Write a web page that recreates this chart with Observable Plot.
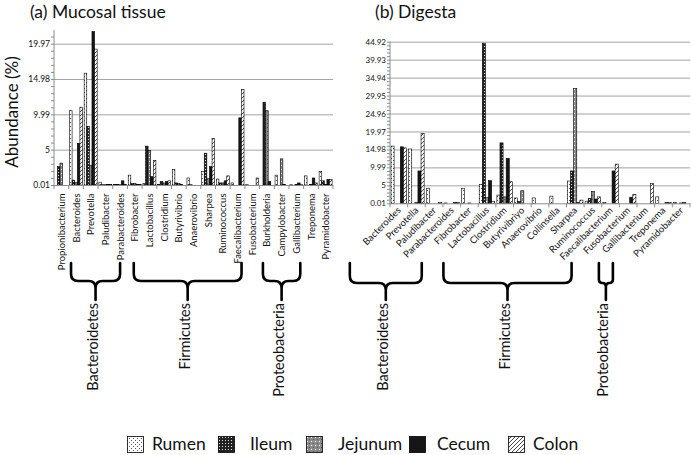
<!DOCTYPE html>
<html><head><meta charset="utf-8">
<script src="https://cdn.jsdelivr.net/npm/d3@7"></script>
<script src="https://cdn.jsdelivr.net/npm/@observablehq/plot@0.6"></script>
<style>
body{margin:0;background:#fff;font-family:Lato,"Open Sans",sans-serif;}
#wrap{position:relative;width:691px;height:455px;overflow:hidden;background:#fff;}
.title{position:absolute;font-size:17.5px;line-height:20px;color:#111;top:2px;white-space:nowrap;z-index:2;}
.panel{position:absolute;top:0;}
.legsw{position:absolute;top:436px;width:17px;height:17px;}
.legtx{position:absolute;top:433px;font-size:17.5px;line-height:22px;color:#111;white-space:nowrap;}
</style></head><body>
<svg width="0" height="0" style="position:absolute">
<defs>
 <pattern id="pRumen" width="4" height="4" patternUnits="userSpaceOnUse">
   <rect width="4" height="4" fill="#fff"/>
   <rect x="0" y="0" width="1" height="1" fill="#555"/>
   <rect x="2" y="2" width="1" height="1" fill="#555"/>
 </pattern>
 <pattern id="pIleum" width="3" height="3" patternUnits="userSpaceOnUse">
   <rect width="3" height="3" fill="#222"/>
   <rect x="1" y="1" width="1" height="1" fill="#ddd"/>
 </pattern>
 <pattern id="pJejunum" width="4" height="4" patternUnits="userSpaceOnUse">
   <rect width="4" height="4" fill="#8a8a8a"/>
   <rect x="1" y="1" width="1" height="1" fill="#fff"/>
   <rect x="3" y="3" width="1" height="1" fill="#555"/>
 </pattern>
 <pattern id="pCecum" width="4" height="4" patternUnits="userSpaceOnUse">
   <rect width="4" height="4" fill="#161616"/>
 </pattern>
 <pattern id="pColon" width="4" height="4" patternUnits="userSpaceOnUse">
   <rect width="4" height="4" fill="#fff"/>
   <path d="M-1,1 l2,-2 M0,4 l4,-4 M3,5 l2,-2" stroke="#333" stroke-width="0.9"/>
 </pattern>
</defs></svg>
<div id="wrap">
  <div class="title" style="left:30px">(a) Mucosal tissue</div>
  <div class="title" style="left:375px">(b) Digesta</div>
  <div id="pa" class="panel" style="left:0"></div>
  <div id="pb" class="panel" style="left:345px"></div>
  <div id="legend"></div>
</div>
<script>
// ---------------- data ----------------
const seriesNames = ["Rumen", "Ileum", "Jejunum", "Cecum", "Colon"];
const patternIds = ["pRumen", "pIleum", "pJejunum", "pCecum", "pColon"];

const mucosaGenera = ["Propionibacterium","Bacteroides","Prevotella","Paludibacter","Parabacteroides",
  "Fibrobacter","Lactobacillus","Clostridium","Butyrivibrio","Anaerovibrio","Sharpea","Ruminococcus",
  "Faecalibacterium","Fusobacterium","Burkholderia","Campylobacter","Gallibacterium","Treponema","Pyramidobacter"];
const mucosaRumen   = [0,   10.5, 15.8, 0.4,  0.1,  1.4, 0.2, 0.1, 2.2, 1.0,  1.9, 0.85, 0.3, 0.05, 0,    1.4, 0.05, 1.3, 1.9];
const mucosaIleum   = [2.6, 0.7,  8.3,  0.05, 0.1,  0.2, 5.5, 0.5, 0.3, 0.05, 4.5, 0.3,  0,   0,    11.7, 0,   0,    0,   0.6];
const mucosaJejunum = [3.1, 0.4,  2.8,  0.05, 0.05, 0.2, 4.9, 0.3, 0.2, 0,    0.9, 0.3,  0,   0,    10.5, 3.7, 0.1,  0.1, 0.1];
const mucosaCecum   = [0,   5.9,  21.7, 0.1,  0.6,  0.1, 1.2, 0.5, 0.1, 0,    2.6, 0.6,  9.5, 0,    0.5,  0.1, 0.3,  1.0, 0.8];
const mucosaColon   = [0,   11.0, 19.2, 0.1,  0.1,  0.1, 3.5, 0.6, 0,   0,    6.6, 1.3,  13.5, 1.0, 0,    0,   0.05, 0.3, 0.8];
const mucosaYTicks = [0.01, 5, 9.99, 14.98, 19.97];
const mucosaYMax = 21.9;

const digestaGenera = ["Bacteroides","Prevotella","Paludibacter","Parabacteroides","Fibrobacter",
  "Lactobacillus","Clostridium","Butyrivibriyo","Anaerovibrio","Collinsella","Sharpea","Ruminococcus",
  "Faecalibacterium","Fusobacterium","Gallibacterium","Treponema","Pyramidobacter"];
const digestaRumen   = [15.9, 15.1, 4.2, 0.1, 4.1, 5.3,  2.3,  1.5, 1.5, 2.0, 6.2,  0.6, 0.2,  0,   0,   1.8, 0.3];
const digestaIleum   = [0,    0,    0,   0,   0,   44.5, 16.8, 0.5, 0,   0,   9.0,  1.4, 0,    0,   0,   0,   0];
const digestaJejunum = [0,    0.3,  0,   0,   0.1, 1.6,  1.8,  3.5, 0,   0,   31.9, 3.3, 0,    0,   0,   0,   0.1];
const digestaCecum   = [15.7, 9.0,  0,   0.3, 0,   6.3,  12.5, 0,   0,   0,   0.2,  1.2, 9.0,  1.7, 0,   0.2, 0.2];
const digestaColon   = [15.4, 19.4, 0.2, 0.2, 0,   0.5,  6.0,  0,   0,   0,   0.9,  1.8, 10.9, 2.5, 5.5, 0.2, 0];
const digestaYTicks = [0.01, 5, 9.99, 14.98, 19.97, 24.96, 29.95, 34.94, 39.93, 44.92];
const digestaYMax = 44.92;

const phylumNames = ["Bacteroidetes", "Firmicutes", "Proteobacteria"];
const mucosaPhylumFirst = ["Bacteroides", "Fibrobacter", "Burkholderia"];
const mucosaPhylumLast  = ["Parabacteroides", "Faecalibacterium", "Gallibacterium"];
const digestaPhylumFirst = ["Bacteroides", "Fibrobacter", "Gallibacterium"];
const digestaPhylumLast  = ["Parabacteroides", "Faecalibacterium", "Gallibacterium"];

// ---------------- layout (pixels) ----------------
const layoutA = {width: 345, height: 420, mL: 54, mR: 12, mT: 30, mB: 235, rotate: -90, xFs: 9.5, yFs: 8.5,
  barOff: 0.8, barW: 2.6, braceOff: [[-5, 0], [-1, 4], [-4, 4]], braceTop: 263, braceMid: 281, braceTip: 300};
const layoutB = {width: 346, height: 420, mL: 45, mR: 1, mT: 41.7, mB: 216.7, rotate: -45, xFs: 9.5, yFs: 8,
  barOff: 1.0, barW: 3.1, braceOff: [[-49, -30], [-26, -39], [-47, -33]], braceTop: 263, braceMid: 283, braceTip: 300};

function makePanel(genera, series, yTicks, yMax, firsts, lasts, L, yLabel) {
  const bw = (L.width - L.mL - L.mR) / genera.length;
  const step = (yTicks[1] - yTicks[0]) / 5;
  const minor = [];
  for (let i = 0; i < yTicks.length - 1; i++) {
    const s = (yTicks[i + 1] - yTicks[i]) / 5;
    for (let k = 0; k < 5; k++) minor.push(yTicks[i] + k * s);
  }
  for (let v = yTicks[yTicks.length - 1]; v <= yMax + 1e-9; v += step) minor.push(v);
  const fmt = d => { const t = yTicks.find(t => Math.abs(t - d) < 1e-6); return t === undefined ? "" : String(t); };

  const marks = [Plot.ruleY(yTicks.slice(1), {stroke: "#a3a3a3", strokeWidth: 1})];
  series.forEach((vals, k) => {
    const data = genera.map((g, i) => ({genus: g, value: vals[i], site: seriesNames[k]})).filter(d => d.value > 0);
    marks.push(Plot.barY(data, {
      x: "genus", y1: yTicks[0], y2: "value",
      fill: `url(#${patternIds[k]})`, stroke: "#000", strokeWidth: 0.6,
      insetLeft: L.barOff + k * L.barW, insetRight: bw - L.barOff - (k + 1) * L.barW
    }));
  });
  marks.push(Plot.ruleY([yTicks[0]], {stroke: "#8c8c8c", strokeWidth: 1}));

  const plot = Plot.plot({
    width: L.width, height: L.height,
    marginLeft: L.mL, marginRight: L.mR, marginTop: L.mT, marginBottom: L.mB,
    style: {fontFamily: "Lato, 'Open Sans', sans-serif", fontSize: L.xFs + "px", color: "#111", background: "transparent", overflow: "visible"},
    x: {domain: genera, padding: 0, round: false, label: null, tickRotate: L.rotate, tickSize: 0, tickPadding: L.rotate === -90 ? 8 : 5},
    y: {domain: [yTicks[0], yMax], ticks: minor, tickFormat: fmt, tickSize: 3, tickPadding: 1.5, label: null},
    marks
  });

  const svg = d3.select(plot);
  svg.selectAll('[aria-label^="y-axis"] text').style("font-size", L.yFs + "px");
  svg.selectAll('[aria-label^="y-axis"] line, [aria-label^="y-axis"] path').attr("stroke", "#8c8c8c");
  svg.selectAll('[aria-label^="x-axis"] text').attr("fill", "#111");
  const y0 = L.height - L.mB;
  // y axis line
  svg.append("line").attr("x1", L.mL).attr("x2", L.mL).attr("y1", y0).attr("y2", L.mT)
    .attr("stroke", "#8c8c8c");
  // category boundary ticks
  const sx = plot.scale("x");
  const start = g => (sx.apply ? sx.apply(g) : L.mL + genera.indexOf(g) * bw);
  const center = g => start(g) + bw / 2;
  genera.concat([null]).forEach((g, i) => {
    const x = L.mL + i * bw;
    svg.append("line").attr("x1", x).attr("x2", x).attr("y1", y0).attr("y2", y0 + 4).attr("stroke", "#8c8c8c");
  });
  // braces + phylum labels
  phylumNames.forEach((name, j) => {
    const x0 = center(firsts[j]) + L.braceOff[j][0];
    const x1 = center(lasts[j]) + L.braceOff[j][1];
    const xc = (x0 + x1) / 2;
    const r = Math.min(7, (x1 - x0) / 4);
    const t = L.braceTop, m = L.braceMid, tip = L.braceTip;
    const p = `M${x0},${t} L${x0},${m - r} Q${x0},${m} ${x0 + r},${m} L${xc - r},${m} Q${xc},${m} ${xc},${m + r} L${xc},${tip}` +
              ` M${xc},${m + r} Q${xc},${m} ${xc + r},${m} L${x1 - r},${m} Q${x1},${m} ${x1},${m - r} L${x1},${t}`;
    svg.append("path").attr("d", p).attr("fill", "none").attr("stroke", "#000").attr("stroke-width", 2.6)
      .attr("stroke-linecap", "round");
    svg.append("text").attr("transform", `translate(${xc - 3},${tip + 3}) rotate(-90)`)
      .attr("text-anchor", "end").attr("dy", "0.35em").attr("font-size", "14.5px").attr("fill", "#111").text(name);
  });
  if (yLabel) {
    svg.append("text").attr("transform", `translate(18,112) rotate(-90)`).attr("text-anchor", "middle")
      .attr("font-size", "17px").attr("fill", "#111").text(yLabel);
  }
  return plot;
}

document.getElementById("pa").appendChild(makePanel(mucosaGenera,
  [mucosaRumen, mucosaIleum, mucosaJejunum, mucosaCecum, mucosaColon],
  mucosaYTicks, mucosaYMax, mucosaPhylumFirst, mucosaPhylumLast, layoutA, "Abundance (%)"));
document.getElementById("pb").appendChild(makePanel(digestaGenera,
  [digestaRumen, digestaIleum, digestaJejunum, digestaCecum, digestaColon],
  digestaYTicks, digestaYMax, digestaPhylumFirst, digestaPhylumLast, layoutB, null));

// legend
const legSwLeft = [127, 218, 306, 409, 508];
const legTxLeft = [152, 250, 338, 437, 533];
const leg = document.getElementById("legend");
seriesNames.forEach((s, k) => {
  const sw = document.createElement("div");
  sw.className = "legsw"; sw.style.left = legSwLeft[k] + "px";
  sw.innerHTML = `<svg width="17" height="17"><rect x="0.5" y="0.5" width="16" height="16" fill="url(#${patternIds[k]})" stroke="#000" stroke-width="0.8"/></svg>`;
  leg.appendChild(sw);
  const tx = document.createElement("div");
  tx.className = "legtx"; tx.style.left = legTxLeft[k] + "px"; tx.textContent = s;
  leg.appendChild(tx);
});
</script>
</body></html>
